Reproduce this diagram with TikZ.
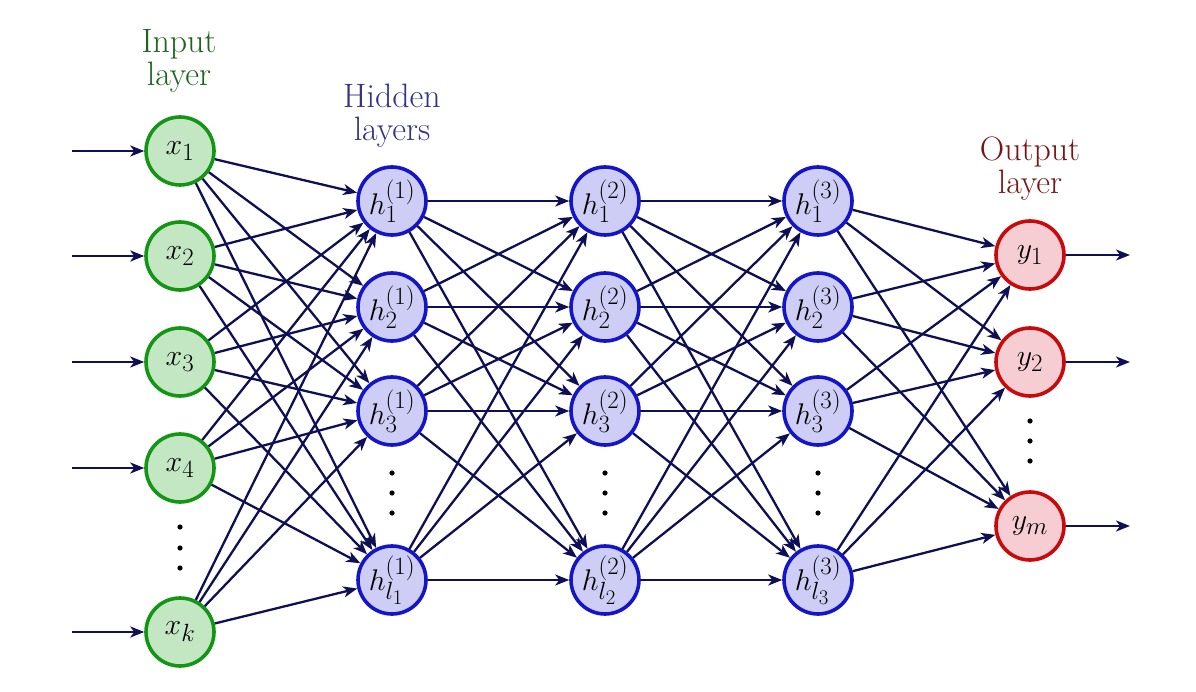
\documentclass[tikz,border=0pt]{standalone}
\usetikzlibrary{arrows.meta}
\definecolor{ingreen}{RGB}{20,150,20}
\definecolor{infill}{RGB}{195,230,195}
\definecolor{hidblue}{RGB}{20,20,200}
\definecolor{hidfill}{RGB}{205,205,245}
\definecolor{outred}{RGB}{200,10,10}
\definecolor{outfill}{RGB}{245,205,210}
\definecolor{arrowc}{RGB}{15,15,85}
\definecolor{intext}{RGB}{30,100,30}
\definecolor{hidtext}{RGB}{50,50,140}
\definecolor{outtext}{RGB}{120,20,20}
\newcommand{\bigtxt}[1]{\scalebox{1.2}{#1}}
\newcommand{\twoline}[2]{\scalebox{1.36}{\begin{tabular}{@{}c@{}}#1\\#2\end{tabular}}}
\begin{document}
\begin{tikzpicture}[x=1pt,y=-1pt,
  neuron/.style={circle,minimum size=68pt,inner sep=0pt,line width=3.6pt,font=\fontsize{24.88}{25.5}\selectfont},
  innode/.style={neuron,draw=ingreen,fill=infill},
  hidnode/.style={neuron,draw=hidblue,fill=hidfill},
  outnode/.style={neuron,draw=outred,fill=outfill},
  conn/.style={draw=arrowc,line width=2.3pt,-{Stealth[length=14pt,width=11pt,inset=4pt]}},
  lbl/.style={inner sep=0pt,font=\fontsize{24.88}{22.5}\selectfont},
  vdot/.style={fill=black}
]
\useasboundingbox (0,0) rectangle (1196,692);

% labels
\node[lbl,text=intext] (lin) at (179,62) {\twoline{Input}{layer}};
\node[lbl,text=hidtext] (lhid) at (392,117) {\twoline{Hidden}{layers}};
\node[lbl,text=outtext] (lout) at (1030,170) {\twoline{Output}{layer}};

% input layer
\node[innode] (x1) at (180,151) {\bigtxt{$x_1$}};
\node[innode] (x2) at (180,256) {\bigtxt{$x_2$}};
\node[innode] (x3) at (180,362) {\bigtxt{$x_3$}};
\node[innode] (x4) at (180,468) {\bigtxt{$x_4$}};
\node[innode] (xk) at (180,632) {\bigtxt{$x_k$}};

% hidden layers
\foreach \L/\X in {1/392,2/605,3/818}{
  \node[hidnode] (h\L1) at (\X,201) {\bigtxt{$h_1^{(\L)}$}};
  \node[hidnode] (h\L2) at (\X,307) {\bigtxt{$h_2^{(\L)}$}};
  \node[hidnode] (h\L3) at (\X,411) {\bigtxt{$h_3^{(\L)}$}};
  \node[hidnode] (h\L l) at (\X,580) {\bigtxt{$h_{l_\L}^{(\L)}$}};
}

% output layer
\node[outnode] (y1) at (1030,255) {\bigtxt{$y_1$}};
\node[outnode] (y2) at (1030,362) {\bigtxt{$y_2$}};
\node[outnode] (ym) at (1030,526) {\bigtxt{$y_m$}};

% dots
\foreach \yy in {527,548,568} \fill[vdot] (180,\yy) circle (2.6);
\foreach \X in {392,605,818} \foreach \yy in {473,493,513} \fill[vdot] (\X,\yy) circle (2.6);
\foreach \yy in {421,441,461} \fill[vdot] (1030,\yy) circle (2.6);

% input arrows
\foreach \n/\yy in {x1/151,x2/256,x3/362,x4/468,xk/632}{
  \coordinate (in\n) at (72,\yy);
  \draw[conn] (in\n) -- (\n);
}
% output arrows
\foreach \n/\yy in {y1/255,y2/362,ym/526}{
  \coordinate (out\n) at (1130,\yy);
  \draw[conn] (\n) -- (out\n);
}

% input -> hidden 1
\foreach \a in {x1,x2,x3,x4,xk}
  \foreach \b in {h11,h12,h13,h1l}
    \draw[conn] (\a) -- (\b);
% hidden 1 -> hidden 2
\foreach \a in {h11,h12,h13,h1l}
  \foreach \b in {h21,h22,h23,h2l}
    \draw[conn] (\a) -- (\b);
% hidden 2 -> hidden 3
\foreach \a in {h21,h22,h23,h2l}
  \foreach \b in {h31,h32,h33,h3l}
    \draw[conn] (\a) -- (\b);
% hidden 3 -> output
\foreach \a in {h31,h32,h33,h3l}
  \foreach \b in {y1,y2,ym}
    \draw[conn] (\a) -- (\b);
\end{tikzpicture}
\end{document}
